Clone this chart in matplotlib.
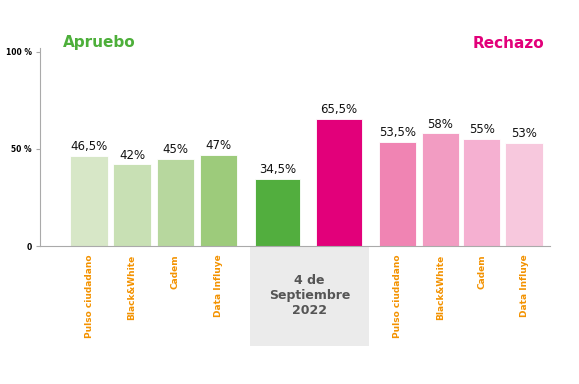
import matplotlib.pyplot as plt
from matplotlib.patches import Rectangle

# data
encuestas = ["Pulso ciudadano", "Black&White", "Cadem", "Data Influye"]
apruebo_enc = [46.5, 42, 45, 47]
rechazo_enc = [53.5, 58, 55, 53]
apruebo_real = 34.5
rechazo_real = 65.5
etiquetas_y = ["0", "50 %", "100 %"]
ticks_y = [0, 50, 100]

verdes = ["#d7e7c7", "#c8e0b4", "#b7d79e", "#9dcb7b"]
rosas = ["#f084b3", "#f29cc2", "#f5b0d1", "#f7c8dd"]
verde = "#52ae3e"
magenta = "#e2007a"
naranja = "#f39200"

plt.rcParams['font.family'] = ['DejaVu Sans']

fig = plt.figure(figsize=(5.79, 3.84), dpi=100)
ax = fig.add_axes([40/579, 1-246/384, 510/579, 198/384])

# bar positions (layout)
x_apr = [0, 1, 2.01, 3.01]
x_real = [4.38, 5.81]
x_rec = [7.17, 8.17, 9.13, 10.12]

def etiqueta(x, v):
    txt = ("%.1f" % v).replace(".", ",") if v % 1 else "%d" % v
    ax.text(x, v + 1.5, txt + "%", ha="center", va="bottom", fontsize=8.5, color="#111111")

for x, v, c in zip(x_apr, apruebo_enc, verdes):
    ax.bar(x, v, width=0.87, color=c, edgecolor="white", linewidth=0.6)
    etiqueta(x, v)
for x, v, c in zip(x_real, [apruebo_real, rechazo_real], [verde, magenta]):
    ax.bar(x, v, width=1.06, color=c, edgecolor="white", linewidth=0.6)
    etiqueta(x, v)
for x, v, c in zip(x_rec, rechazo_enc, rosas):
    ax.bar(x, v, width=0.87, color=c, edgecolor="white", linewidth=0.6)
    etiqueta(x, v)

ax.set_xlim(-1.14, 10.72)
ax.set_ylim(0, 102)
ax.set_yticks(ticks_y)
ax.set_yticklabels(etiquetas_y, fontsize=5.5, fontweight="bold")
ax.tick_params(axis="y", length=3, color="#aaaaaa", pad=3)

ax.set_xticks(x_apr + x_rec)
ax.set_xticklabels(encuestas + encuestas, rotation=90, fontsize=6.5,
                   fontweight="bold", color=naranja, va="top")
ax.tick_params(axis="x", length=0, pad=6)

for s in ["top", "right"]:
    ax.spines[s].set_visible(False)
ax.spines["left"].set_color("#aaaaaa")
ax.spines["bottom"].set_color("#aaaaaa")

# election day box
ax.add_patch(Rectangle((3.74, -0.505), 2.77, 0.505, transform=ax.get_xaxis_transform(),
                       facecolor="#ebebeb", edgecolor="none", clip_on=False, zorder=0))
ax.text(5.125, -0.25, "4 de\nSeptiembre\n2022", transform=ax.get_xaxis_transform(),
        ha="center", va="center", fontsize=9, fontweight="bold", color="#555555",
        linespacing=1.25)

fig.text(63/579, 1-43/384, "Apruebo", color="#4daf3a", fontsize=11,
         fontweight="bold", ha="left", va="center")
fig.text(544/579, 1-43/384, "Rechazo", color=magenta, fontsize=11,
         fontweight="bold", ha="right", va="center")

fig.savefig("out.png", dpi=100)
